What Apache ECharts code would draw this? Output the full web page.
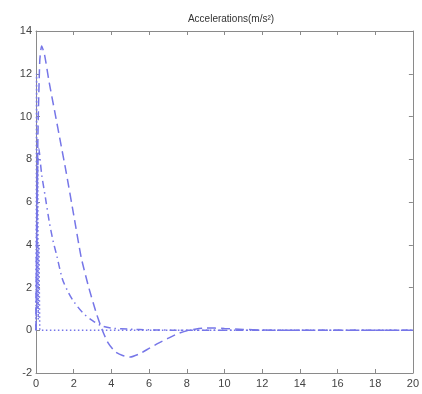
<!DOCTYPE html>
<html><head><meta charset="utf-8">
<script src="https://cdn.jsdelivr.net/npm/echarts@6/dist/echarts.min.js"></script>
<style>html,body{margin:0;padding:0;background:#fff}#c{width:422px;height:394px}</style>
</head><body><div id="c"></div>
<script>
const titleText = 'Accelerations(m/s²)';
const xTicks = [0,2,4,6,8,10,12,14,16,18,20];
const yTicks = [-2,0,2,4,6,8,10,12,14];
// dashed curve
const dashedX = [0,0.1,0.2,0.3,0.45,0.7,1.0,1.3,1.6,2.0,2.4,2.8,3.2,3.5,3.8,4.2,4.6,5.0,5.5,6.0,6.5,7.0,7.5,8.0,8.5,9.0,9.5,10,11,12,13,20];
const dashedY = [0,9,12.6,13.3,12.9,11.6,10.2,8.8,7.4,5.4,3.4,2.0,0.8,0.05,-0.55,-1.0,-1.18,-1.25,-1.1,-0.85,-0.6,-0.38,-0.17,-0.02,0.06,0.1,0.1,0.08,0.04,0.01,0,0];
// dash-dot curve
const dashDotX = [0,0.05,0.15,0.3,0.5,0.7,0.9,1.1,1.4,1.7,2.0,2.5,3.0,3.5,4.0,5.0,6.0,8.0,20];
const dashDotY = [0,6,8.5,7.3,6.2,5.1,4.2,3.5,2.4,1.8,1.35,0.8,0.45,0.2,0.1,0.05,0.02,0,0];
// dotted curve
const dottedX = [0,0.03,0.06,0.09,0.12,0.15,0.2,20];
const dottedY = [0,12,1,8,0.5,4,0,0];

const zip = (xs, ys) => xs.map((x,i)=>[x, ys[i]]);
const lineColor = '#7676e8';
const axisGray = '#8a8a8a';
const labelStyle = {color:'#444', fontFamily:'Liberation Sans', fontSize:11};
const tick = {show:true, inside:true, length:4, lineStyle:{color:axisGray}};
const line = {show:true, onZero:false, lineStyle:{color:axisGray}};

const chart = echarts.init(document.getElementById('c'));
chart.setOption({
  animation:false,
  title:{text:titleText, left:226, top:9, textAlign:'center',
    textStyle:{fontFamily:'Liberation Sans', fontSize:10, fontWeight:'normal', color:'#333'}},
  grid:{left:36, right:5, top:31, bottom:21},
  xAxis:[
    {type:'value', min:0, max:20, interval:2, axisLine:line, axisTick:tick,
     splitLine:{show:false}, axisLabel:Object.assign({margin:5, formatter:v=>xTicks.includes(v)?String(v):''}, labelStyle)},
    {type:'value', min:0, max:20, interval:2, position:'top', axisLine:line, axisTick:tick,
     splitLine:{show:false}, axisLabel:{show:false}}
  ],
  yAxis:[
    {type:'value', min:-2, max:14, interval:2, axisLine:line, axisTick:tick,
     splitLine:{show:false}, axisLabel:Object.assign({margin:4, formatter:v=>yTicks.includes(v)?String(v):''}, labelStyle)},
    {type:'value', min:-2, max:14, interval:2, position:'right', axisLine:line, axisTick:tick,
     splitLine:{show:false}, axisLabel:{show:false}}
  ],
  series:[
    {type:'line', data:zip(dottedX, dottedY), symbol:'none', lineStyle:{color:lineColor, width:1.5, type:[1.5,2.5]}},
    {type:'line', data:zip(dashDotX, dashDotY), symbol:'none', smooth:0.3, lineStyle:{color:lineColor, width:1.5, type:[7,4,1.5,4]}},
    {type:'line', data:zip(dashedX, dashedY), symbol:'none', smooth:0.2, lineStyle:{color:lineColor, width:1.5, type:[9,5]}}
  ]
});
</script></body></html>
